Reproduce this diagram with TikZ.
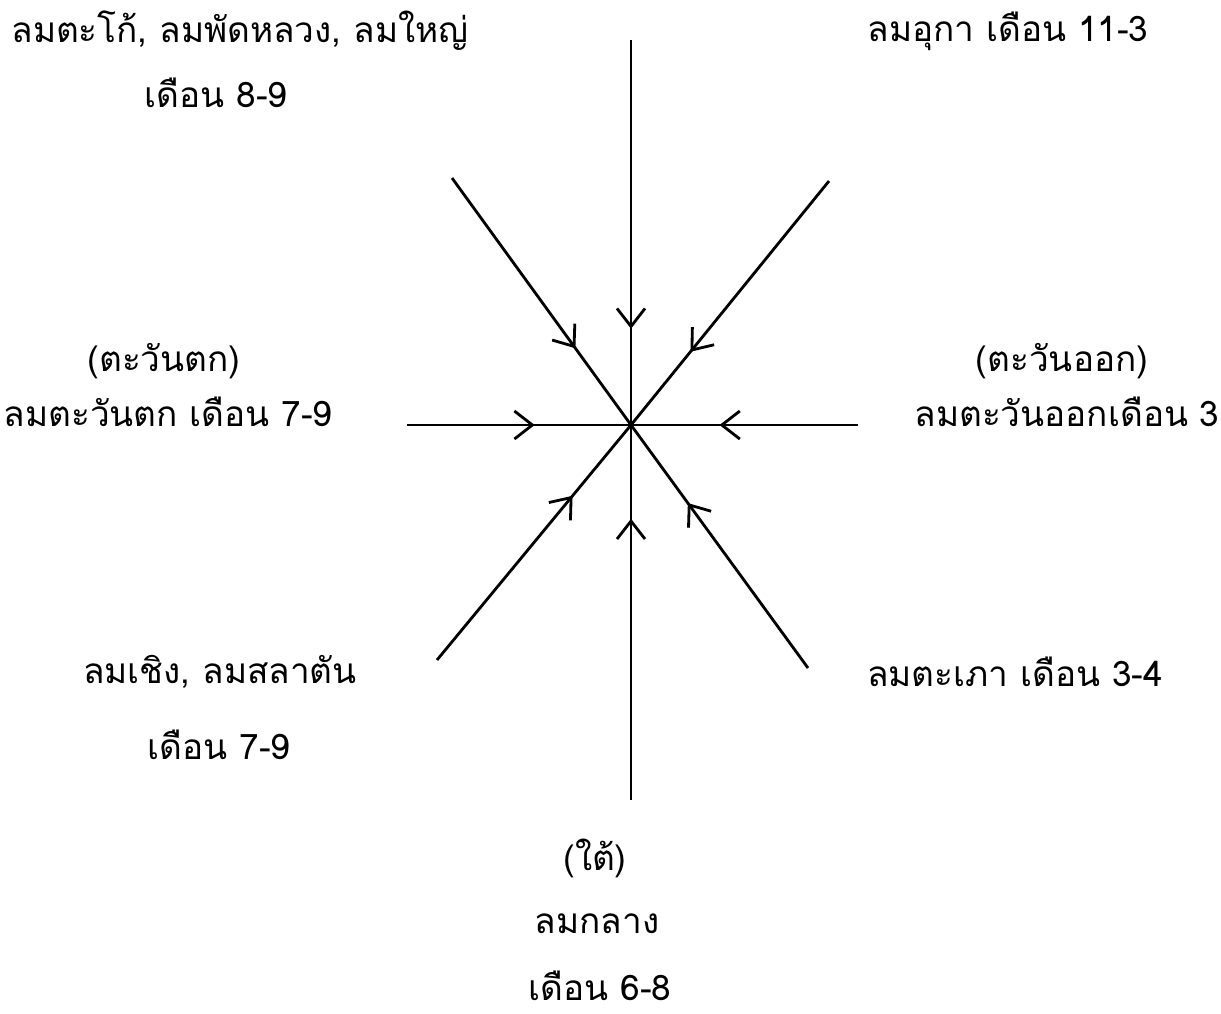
\documentclass[tikz,border=0pt]{standalone}
\usepackage{fontspec}
\newfontfamily\thaifont[Script=Thai]{Loma}
\usetikzlibrary{arrows.meta, decorations.markings}

\begin{document}
\begin{tikzpicture}[
  font=\thaifont\fontsize{10}{12}\selectfont,
  lbl/.style={inner sep=1pt, anchor=center},
  spoke/.style={line width=0.8pt, draw=black},
  wind/.tip={Straight Barb[length=1.8mm, width=2.8mm, line width=0.8pt]}
]
\useasboundingbox (0,0) rectangle (12.21,-10.13);

% --- centre and the outer ends of the eight spokes ---
\coordinate (o)  at (6.31,-4.25);
\coordinate (n)  at (6.31,-0.40);
\coordinate (s)  at (6.31,-8.00);
\coordinate (w)  at (4.07,-4.25);
\coordinate (e)  at (8.58,-4.25);
\coordinate (nw) at (4.52,-1.78);
\coordinate (ne) at (8.29,-1.81);
\coordinate (sw) at (4.37,-6.60);
\coordinate (se) at (8.08,-6.68);

% every wind blows in toward the centre
\foreach \d/\p in {n/0.75, s/0.75, w/0.57, e/0.61, nw/0.69, ne/0.70, sw/0.70, se/0.68}
  \draw[spoke, postaction={decorate, decoration={markings,
      mark=at position \p with {\arrow{wind}}}}] (\d) -- (o);

% --- labels, top row ---
\node[lbl] (tnw)  at (2.40,-0.31) {ลมตะโก้, ลมพัดหลวง, ลมใหญ่};
\node[lbl] (tnw2) at (2.16,-0.93) {เดือน 8-9};
\node[lbl] (tne)  at (10.08,-0.31) {ลมอุกา เดือน 11-3};

% --- west and east ---
\node[lbl] (tw)   at (1.64,-3.61) {(ตะวันตก)};
\node[lbl] (tw2)  at (1.68,-4.12) {ลมตะวันตก เดือน 7-9};
\node[lbl] (te)   at (10.62,-3.61) {(ตะวันออก)};
\node[lbl] (te2)  at (10.67,-4.12) {ลมตะวันออกเดือน 3};

% --- lower row ---
\node[lbl] (tsw)  at (2.20,-6.72) {ลมเชิง, ลมสลาตัน};
\node[lbl] (tsw2) at (2.19,-7.45) {เดือน 7-9};
\node[lbl] (tse)  at (10.15,-6.72) {ลมตะเภา เดือน 3-4};

% --- south ---
\node[lbl] (ts)   at (5.95,-8.58) {(ใต้)};
\node[lbl] (ts2)  at (5.97,-9.24) {ลมกลาง};
\node[lbl] (ts3)  at (6.00,-9.86) {เดือน 6-8};

\end{tikzpicture}
\end{document}
